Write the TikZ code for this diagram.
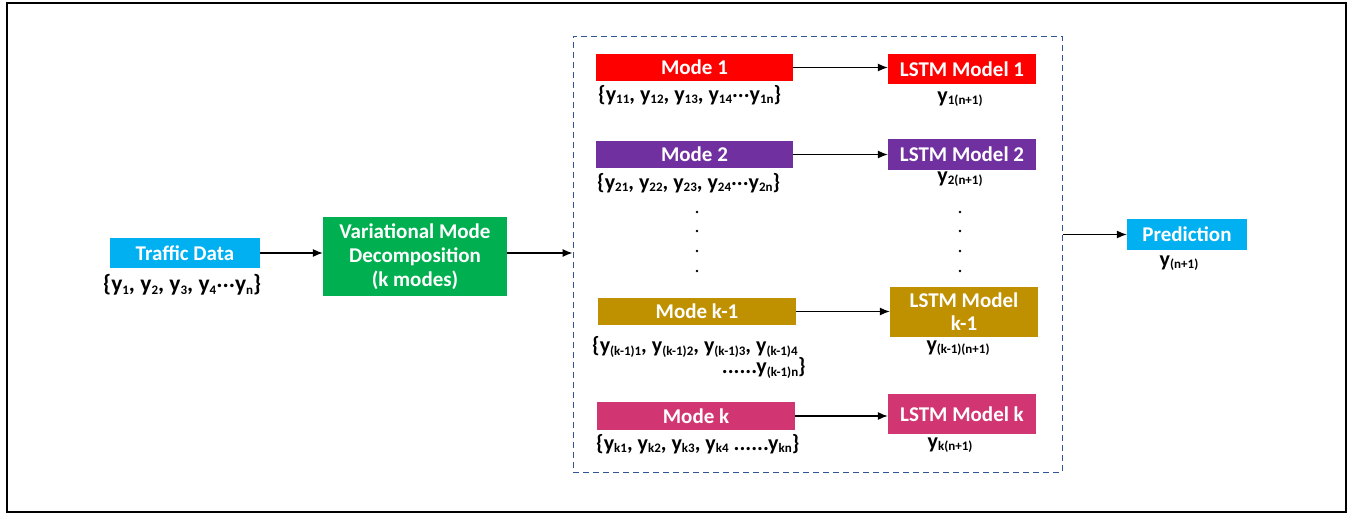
\documentclass[tikz,border=0pt]{standalone}
\usepackage{fontspec}
\setmainfont{Carlito}
\usetikzlibrary{arrows.meta,calc}
\definecolor{cTD}{HTML}{00B0F0}
\definecolor{cVMD}{HTML}{00B050}
\definecolor{cRed}{HTML}{FF0000}
\definecolor{cPur}{HTML}{7030A0}
\definecolor{cGold}{HTML}{BF9000}
\definecolor{cPink}{HTML}{D13672}
\definecolor{cDash}{HTML}{2F5597}
\newcommand{\sbs}[1]{\raisebox{-0.25ex}{\fontsize{13}{13}\selectfont #1}}
\newcommand{\cd}{\raisebox{0.35ex}{.}}
\tikzset{
  blk/.style={fill=#1, draw=none, inner sep=0pt, text=white, font=\fontsize{21}{23}\selectfont\bfseries, align=center},
  lbl/.style={inner sep=0pt, font=\fontsize{22}{24}\selectfont\bfseries, text=black},
  arr/.style={-{Latex[length=10pt,width=8pt]}, line width=1.1pt},
  dotc/.style={circle, fill=black, inner sep=0pt, minimum size=2.8pt}
}
\begin{document}
\begin{tikzpicture}[x=1pt,y=-1pt]
\useasboundingbox (0,0) rectangle (1349,514);
\node[draw=black, line width=2pt, minimum width=1339pt, minimum height=509pt, inner sep=0pt] (frame) at (676.5,257.5) {};
% group
\node[draw=cDash, dash pattern=on 6pt off 4pt, line width=1pt, minimum width=489pt, minimum height=436pt, inner sep=0pt] (group) at (817.5,254) {};
% blocks
\node[blk=cTD, minimum width=150pt, minimum height=30pt] (td) at (185,253) {Traffic Data};
\node[blk=cVMD, minimum width=184pt, minimum height=79pt] (vmd) at (415,256.5) {Variational Mode\\[1pt]Decomposition\\[1pt](k modes)};
\node[blk=cRed, minimum width=197pt, minimum height=27pt] (m1) at (694.5,67.5) {Mode 1};
\node[blk=cRed, minimum width=148pt, minimum height=30pt] (l1) at (962,69) {LSTM Model 1};
\node[blk=cPur, minimum width=197pt, minimum height=27pt] (m2) at (694.5,154.5) {Mode 2};
\node[blk=cPur, minimum width=148pt, minimum height=31pt] (l2) at (962,154.5) {LSTM Model 2};
\node[blk=cGold, minimum width=198pt, minimum height=27pt] (mk1) at (697,311.5) {Mode k-1};
\node[blk=cGold, minimum width=148pt, minimum height=50pt] (lk1) at (964,312) {LSTM Model\\k-1};
\node[blk=cPink, minimum width=198pt, minimum height=28pt] (mk) at (696,416) {Mode k};
\node[blk=cPink, minimum width=148pt, minimum height=40pt] (lk) at (962,414) {LSTM Model k};
\node[blk=cTD, minimum width=120pt, minimum height=31pt] (pred) at (1187,234.5) {Prediction};
% labels
\node[lbl, anchor=west, font=\fontsize{23.5}{25}\selectfont\bfseries] (ltd) at (103,285) {\{y\sbs{1}, y\sbs{2}, y\sbs{3}, y\sbs{4}\cd\cd\cd y\sbs{n}\}};
\node[lbl, anchor=west] (lm1) at (598,95) {\{y\sbs{11}, y\sbs{12}, y\sbs{13}, y\sbs{14}\cd\cd\cd y\sbs{1n}\}};
\node[lbl] (ll1) at (960,99) {y\sbs{1(n+1)}};
\node[lbl, anchor=west] (lm2) at (597,183) {\{y\sbs{21}, y\sbs{22}, y\sbs{23}, y\sbs{24}\cd\cd\cd y\sbs{2n}\}};
\node[lbl] (ll2) at (960,179) {y\sbs{2(n+1)}};
\node[lbl, anchor=west] (lmk1a) at (592,347) {\{y\sbs{(k-1)1}, y\sbs{(k-1)2}, y\sbs{(k-1)3}, y\sbs{(k-1)4}};
\node[lbl, anchor=east] (lmk1b) at (806,368) {......y\sbs{(k-1)n}\}};
\node[lbl] (llk1) at (958,348) {y\sbs{(k-1)(n+1)}};
\node[lbl, anchor=west] (lmk) at (596,444) {\{y\sbs{k1}, y\sbs{k2}, y\sbs{k3}, y\sbs{k4} ......y\sbs{kn}\}};
\node[lbl] (llk) at (950,445) {y\sbs{k(n+1)}};
\node[lbl] (lpred) at (1179,263) {y\sbs{(n+1)}};
% dots
\foreach \yy [count=\i] in {212,231,251,271}{
  \node[dotc] (da\i) at (697,\yy) {};
  \node[dotc] (db\i) at (960,\yy) {};
}
% arrows
\draw[arr] (td.east) -- (td.east -| vmd.west);
\draw[arr] (vmd.east |- td.east) -- (td.east -| group.west);
\draw[arr] (m1.east) -- (m1.east -| l1.west);
\draw[arr] (m2.east) -- (m2.east -| l2.west);
\draw[arr] (mk1.east) -- (mk1.east -| lk1.west);
\draw[arr] (mk.east) -- (mk.east -| lk.west);
\draw[arr] (group.east |- pred.west) -- (pred.west);
\end{tikzpicture}
\end{document}
